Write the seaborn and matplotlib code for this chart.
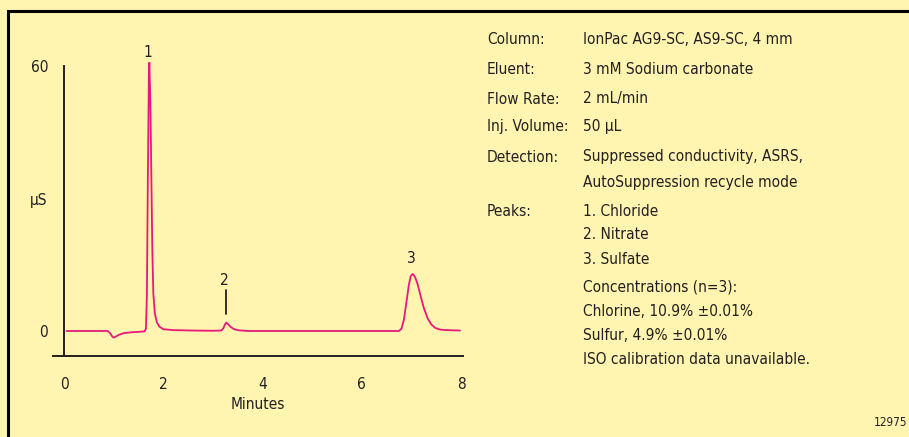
import matplotlib
matplotlib.use('Agg')
import matplotlib.pyplot as plt
import seaborn as sns
import pandas as pd
from matplotlib import font_manager
from matplotlib.patches import Rectangle

# chromatogram trace (minutes, uS)
minutes = [0.05, 0.5, 0.88, 0.93, 0.97, 1.0, 1.04, 1.1, 1.2, 1.35, 1.5, 1.62, 1.65,
           1.67, 1.69, 1.71, 1.72, 1.74, 1.76, 1.78, 1.8, 1.83, 1.87, 1.92, 2.0,
           2.2, 2.6, 3.0, 3.17, 3.21, 3.24, 3.27, 3.31, 3.36, 3.43, 3.52, 3.7,
           4.5, 5.5, 6.5, 6.75, 6.8, 6.85, 6.9, 6.95, 6.99, 7.03, 7.07, 7.12,
           7.18, 7.25, 7.33, 7.4, 7.48, 7.58, 7.7, 7.98]
signal = [0.0, 0.0, 0.0, -0.5, -1.2, -1.5, -1.3, -0.9, -0.5, -0.3, -0.2, -0.1, 0.5,
          8.0, 35.0, 58.0, 60.7, 52.0, 35.0, 18.0, 8.5, 4.0, 2.0, 1.0, 0.4,
          0.2, 0.1, 0.05, 0.1, 0.6, 1.4, 1.9, 1.5, 0.9, 0.4, 0.15, 0.0,
          0.0, 0.0, 0.0, 0.0, 0.5, 2.6, 6.5, 10.5, 12.5, 12.9, 12.3, 10.8,
          8.2, 5.2, 2.8, 1.5, 0.7, 0.3, 0.2, 0.1]

peak_labels = ['1', '2', '3']
peak_times = [1.72, 3.27, 7.03]
peak_heights = [60.7, 1.9, 12.9]

x_ticks = [0, 2, 4, 6, 8]
y_ticks = [0, 60]

info_keys = ['Column:', 'Eluent:', 'Flow Rate:', 'Inj. Volume:', 'Detection:', '', 'Peaks:',
             '', '', '', '', '', '']
info_values = ['IonPac AG9-SC, AS9-SC, 4 mm', '3 mM Sodium carbonate', '2 mL/min',
               '50 \u03bcL', 'Suppressed conductivity, ASRS,', 'AutoSuppression recycle mode',
               '1. Chloride', '2. Nitrate', '3. Sulfate', 'Concentrations (n=3):',
               'Chlorine, 10.9% \u00b10.01%', 'Sulfur, 4.9% \u00b10.01%',
               'ISO calibration data unavailable.']
info_rows_px = [39, 70, 99, 127, 157, 182, 211, 234, 259, 287, 311, 335, 359]

df = pd.DataFrame({'Minutes': minutes, 'uS': signal})

sns.set_style('white')

# the original uses a condensed sans; DejaVu Sans Condensed is the closest here
condensed = [f for f in font_manager.fontManager.ttflist
             if f.name == 'DejaVu Sans' and 'condensed' in str(f.stretch)]
if condensed:
    FONT, FS = 'DejaVu Sans', 11.1
    plt.rcParams['font.stretch'] = 'condensed'
else:
    FONT, FS = 'Liberation Sans', 10.8
plt.rcParams['font.family'] = [FONT, 'DejaVu Sans']

W, H = 909, 437
BG = '#fff5b0'
TRACE = '#e8187c'
INK = '#231f20'

fig = plt.figure(figsize=(W / 100, H / 100), dpi=100)
fig.patch.set_facecolor(BG)

# frame (top and left edges visible, others run off the image)
fig.patches.append(Rectangle((8 / W, -0.05), 1.1, 1 - 11 / H + 0.05,
                             transform=fig.transFigure, fill=False,
                             edgecolor='black', linewidth=2.2))


def fy(py):
    return 1 - py / H


ax = fig.add_axes([53 / W, fy(356), (462.5 - 53) / W, (356 - 30) / H])
ax.set_facecolor('none')
sns.lineplot(data=df, x='Minutes', y='uS', ax=ax, color=TRACE, linewidth=1.3,
             estimator=None, sort=False)

ax.set_xlim(-0.222, 8.03)
ax.set_ylim(-5.66, 68.1)
for s in ['top', 'right']:
    ax.spines[s].set_visible(False)
ax.spines['left'].set_position(('data', 0))
ax.spines['left'].set_bounds(-5.66, 60)
for s in ['left', 'bottom']:
    ax.spines[s].set_color(INK)
    ax.spines[s].set_linewidth(1.4)

ax.set_xticks(x_ticks)
ax.set_yticks(y_ticks)
ax.tick_params(axis='both', direction='out', colors=INK, labelsize=FS, width=1.4)
ax.tick_params(axis='x', length=7, pad=8)
ax.tick_params(axis='y', length=8, pad=3.5)
ax.yaxis.get_major_ticks()[0].tick1line.set_visible(False)
ax.set_xlabel('Minutes', fontsize=FS, color=INK, labelpad=4)
ax.set_ylabel('')

fig.text(39 / W, fy(201), '\u03bcS', fontsize=FS, color=INK, ha='center', va='center')

# peak labels
offsets = [1.2, 8.5, 2.5]
for lab, t, h, off in zip(peak_labels, peak_times, peak_heights, offsets):
    ax.annotate(lab, (t - 0.04, h + off), ha='center', va='baseline', fontsize=FS, color=INK)
ax.plot([peak_times[1], peak_times[1]], [peak_heights[1] + 1.95, peak_heights[1] + 7.4],
        color=INK, linewidth=1.3)

# conditions panel
for key, val, py in zip(info_keys, info_values, info_rows_px):
    if key:
        fig.text(487 / W, fy(py), key, fontsize=FS, color=INK, va='center', ha='left')
    fig.text(583 / W, fy(py), val, fontsize=FS, color=INK, va='center', ha='left')

fig.text(907 / W, fy(423), '12975', fontsize=8.5, color=INK, va='center', ha='right')

fig.savefig('out.png', dpi=100, facecolor=BG)
